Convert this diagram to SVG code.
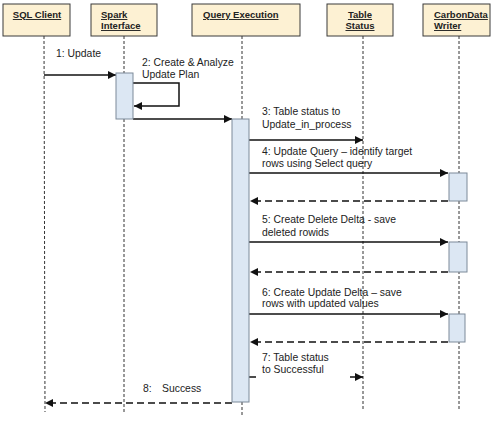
<svg xmlns="http://www.w3.org/2000/svg" width="500" height="421" viewBox="0 0 500 421">
<style>
.hdr{fill:#FDF1D3;stroke:#3a3a3a;stroke-width:1}
.ht{font-family:"Liberation Sans",Arial,sans-serif;font-size:9.5px;font-weight:bold;fill:#222;text-decoration:underline}
.lbl{font-family:"Liberation Sans",Arial,sans-serif;font-size:10.4px;fill:#222}
.life{stroke:#333;stroke-width:1;stroke-dasharray:3,2;fill:none}
.act{fill:#DCE7F3;stroke:#7d8a99;stroke-width:1}
.msg{stroke:#111;stroke-width:1.5;fill:none}
.ret{stroke:#111;stroke-width:1.5;fill:none;stroke-dasharray:7,4}
</style>
<defs>
<marker id="ah" viewBox="0 0 10 10" refX="10" refY="5" markerWidth="8" markerHeight="8" markerUnits="userSpaceOnUse" orient="auto">
<path d="M0,0 L10,5 L0,10 Z" fill="#111"/>
</marker>
</defs>
<rect width="500" height="421" fill="#fff"/>

<g id="connectors">
<line class="life" x1="44" y1="36" x2="45" y2="412"/>
<line class="life" x1="124" y1="36" x2="124" y2="73"/>
<line class="life" x1="124" y1="119" x2="124" y2="412"/>
<line class="life" x1="242" y1="36" x2="242" y2="119"/>
<line class="life" x1="242" y1="402" x2="242" y2="416"/>
<line class="life" x1="363" y1="36" x2="363" y2="411"/>
<line class="life" x1="459" y1="36" x2="459" y2="411"/>

<line class="msg" x1="44" y1="75" x2="116" y2="75" marker-end="url(#ah)"/>
<polyline class="msg" points="133,83 179,83 179,106 134,106" marker-end="url(#ah)"/>
<line class="msg" x1="133" y1="119" x2="232" y2="119" marker-end="url(#ah)"/>
<line class="msg" x1="249" y1="140" x2="363" y2="140" marker-end="url(#ah)"/>
<line class="msg" x1="249" y1="173" x2="448" y2="173" marker-end="url(#ah)"/>
<line class="ret" x1="448" y1="201" x2="250" y2="201" marker-end="url(#ah)"/>
<line class="msg" x1="249" y1="242" x2="448" y2="242" marker-end="url(#ah)"/>
<line class="ret" x1="448" y1="272" x2="250" y2="272" marker-end="url(#ah)"/>
<line class="msg" x1="249" y1="314" x2="448" y2="314" marker-end="url(#ah)"/>
<line class="ret" x1="448" y1="342" x2="250" y2="342" marker-end="url(#ah)"/>
<line class="msg" x1="249" y1="377" x2="256" y2="377"/>
<line class="msg" x1="350" y1="377" x2="363" y2="377" marker-end="url(#ah)"/>
<line class="ret" x1="232" y1="403" x2="45" y2="403" marker-end="url(#ah)"/>
</g>

<g id="sql-client">
<rect class="hdr" x="3" y="4" width="67" height="32"/>
<text class="ht" x="37" y="18" text-anchor="middle">SQL Client</text>
</g>
<g id="spark-interface">
<rect class="hdr" x="91" y="4" width="66" height="32"/>
<text class="ht" x="101" y="18">Spark</text>
<text class="ht" x="101" y="29">Interface</text>
<rect class="act" x="116" y="73" width="17" height="46"/>
</g>
<g id="query-execution">
<rect class="hdr" x="192" y="4" width="108" height="32"/>
<text class="ht" x="203" y="18">Query Execution</text>
<rect class="act" x="232" y="119" width="17" height="283"/>
</g>
<g id="table-status">
<rect class="hdr" x="327" y="4" width="66" height="32"/>
<text class="ht" x="360" y="18" text-anchor="middle">Table</text>
<text class="ht" x="360" y="29" text-anchor="middle">Status</text>
</g>
<g id="carbondata-writer">
<rect class="hdr" x="423" y="4" width="67" height="32"/>
<text class="ht" x="434" y="18">CarbonData</text>
<text class="ht" x="434" y="29">Writer</text>
<rect class="act" x="449" y="173" width="18" height="28"/>
<rect class="act" x="449" y="242" width="18" height="30"/>
<rect class="act" x="449" y="314" width="16" height="28"/>
</g>

<g id="labels">
<text class="lbl" x="56" y="57">1: Update</text>
<text class="lbl" x="142" y="66">2: Create &amp; Analyze</text>
<text class="lbl" x="142" y="78">Update Plan</text>
<text class="lbl" x="262" y="115">3: Table status to</text>
<text class="lbl" x="262" y="128">Update_in_process</text>
<text class="lbl" x="262" y="155">4: Update Query – identify target</text>
<text class="lbl" x="262" y="167">rows using Select query</text>
<text class="lbl" x="262" y="223">5: Create Delete Delta - save</text>
<text class="lbl" x="262" y="236">deleted rowids</text>
<text class="lbl" x="262" y="296">6: Create Update Delta – save</text>
<text class="lbl" x="262" y="307">rows with updated values</text>
<text class="lbl" x="262" y="361">7: Table status</text>
<text class="lbl" x="262" y="373">to Successful</text>
<text class="lbl" x="143" y="392">8:</text>
<text class="lbl" x="162" y="392">Success</text>
</g>
</svg>
